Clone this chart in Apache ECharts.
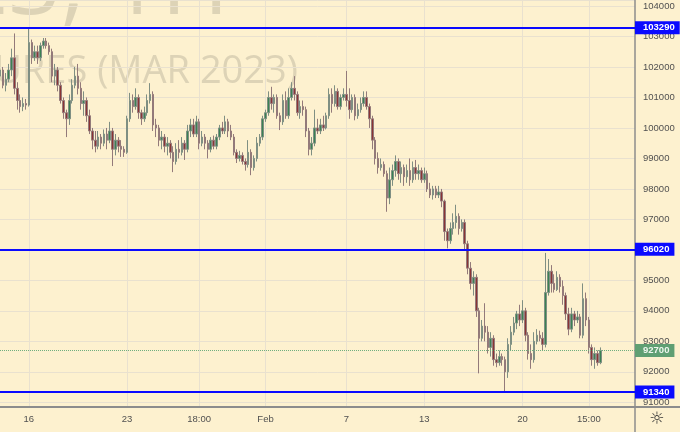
<!DOCTYPE html>
<html><head><meta charset="utf-8">
<script src="https://cdn.jsdelivr.net/npm/echarts@6/dist/echarts.min.js"></script>
<style>html,body{margin:0;padding:0;background:#fdf1cf}#c{width:680px;height:432px}</style>
</head><body><div id="c"></div><script>
const opens=[101700,101900,101400,101600,101900,102300,101300,100900,100700,100800,
100750,102800,102300,102500,102300,102700,102850,102700,102500,101700,
101900,101400,100900,100500,100300,100900,101400,101700,101300,100800,
100900,100400,99900,99600,99400,99700,99500,99800,99600,99900,
99300,99600,99400,99300,99200,100300,100900,100700,101000,100500,
100300,100500,100900,101100,100100,100000,99600,99700,99400,99500,
99200,98900,99300,99200,99500,99300,99900,100100,99800,100200,
99500,99700,99500,99300,99600,99400,99700,100000,99900,100200,
99900,99700,99200,99000,99100,98900,98800,99200,98700,99000,
99500,99700,100300,100500,101000,100800,101000,100400,100200,100900,
100400,101000,101300,101100,100500,100700,100600,99900,99300,99500,
100000,99900,100100,100000,100400,101100,100800,101200,100700,101000,
101100,100900,100600,101000,100400,100600,100800,101000,100700,100300,
99600,99000,98700,98800,98500,97700,98300,98600,98900,98500,
98700,98400,98600,98300,98700,98500,98600,98300,98500,98000,
97800,98000,97800,97900,97600,96600,96300,96700,96900,97100,
96700,96900,96200,95400,94900,95100,94000,93100,93500,93300,
92800,93100,92400,92300,92500,92400,92000,92900,93300,93600,
93900,93700,94000,93200,92600,92400,93000,93200,93100,92900,
94600,95300,94900,94700,95100,94800,94500,93900,93400,93900,
93700,93800,93200,94400,93700,92800,92400,92600,92300];
const closes=[101900,101400,101600,101900,102300,101300,100900,100700,100800,100750,
102800,102300,102500,102300,102700,102850,102700,102500,101700,101900,
101400,100900,100500,100300,100900,101400,101700,101300,100800,100900,
100400,99900,99600,99400,99700,99500,99800,99600,99900,99300,
99600,99400,99300,99200,100300,100900,100700,101000,100500,100300,
100500,100900,101100,100100,100000,99600,99700,99400,99500,99200,
98900,99300,99200,99500,99300,99900,100100,99800,100200,99500,
99700,99500,99300,99600,99400,99700,100000,99900,100200,99900,
99700,99200,99000,99100,98900,98800,99200,98700,99000,99500,
99700,100300,100500,101000,100800,101000,100400,100200,100900,100400,
101000,101300,101100,100500,100700,100600,99900,99300,99500,100000,
99900,100100,100000,100400,101100,100800,101200,100700,101000,101100,
100900,100600,101000,100400,100600,100800,101000,100700,100300,99600,
99000,98700,98800,98500,97700,98300,98600,98900,98500,98700,
98400,98600,98300,98700,98500,98600,98300,98500,98000,97800,
98000,97800,97900,97600,96600,96300,96700,96900,97100,96700,
96900,96200,95400,94900,95100,94000,93100,93500,93300,92800,
93100,92400,92300,92500,92400,92000,92900,93300,93600,93900,
93700,94000,93200,92600,92400,93000,93200,93100,92900,94600,
95300,94900,94700,95100,94800,94500,93900,93400,93900,93700,
93800,93200,94400,93700,92800,92400,92600,92300,92700];
const lows=[101500,101300,101200,101500,101700,101100,100600,100500,100550,100600,
100700,102100,102200,102100,102200,102600,102600,102400,101500,101400,
101200,100800,100300,99700,100100,100800,101300,101100,100600,100400,
100200,99800,99300,99200,99300,99300,99400,99300,99500,98750,
99100,99200,99050,99050,99150,100200,100500,100600,100300,100100,
100200,100400,100800,99900,99700,99400,99300,99200,99100,99000,
98550,98800,99000,99100,98950,99200,99700,99700,99700,99300,
99400,99300,99000,99200,99300,99300,99600,99800,99800,99700,
99600,99100,98850,98900,98800,98600,98700,98450,98600,98900,
99400,99600,100200,100400,100600,100500,100300,99930,100100,100300,
100300,100900,100900,100400,100300,100400,99700,99100,99100,99400,
99800,99800,99900,99950,100300,100500,100700,100600,100600,100900,
100700,100300,100500,100250,100300,100500,100700,100600,100000,99300,
98800,98500,98600,98400,97250,97500,98100,98400,98300,98200,
98100,98200,98100,98200,98300,98300,98200,98200,97900,97700,
97650,97700,97700,97400,96300,96050,96200,96500,96700,96500,
96600,96000,95200,94700,94500,93800,91950,93000,93000,92600,
92500,92200,92150,92200,92200,91340,91800,92700,93200,93400,
93500,93600,93000,92400,92100,92300,92900,93000,92700,92800,
94500,94600,94600,94650,94600,94200,93700,93200,93300,93500,
93600,93100,93100,93500,92600,92200,92100,92200,92250];
const highs=[102100,102000,101800,102100,102600,103100,101500,101100,101000,100950,
103300,102900,102700,102700,102800,102950,102950,102800,102600,102100,
102000,101500,101000,100600,101100,101600,102000,102100,101500,101200,
101000,100600,100000,99900,99900,99800,99950,100000,100200,100000,
99800,99700,99600,99400,100400,101150,101100,101300,101100,100600,
100700,101100,101470,101200,100300,100100,99900,99800,99700,99600,
99400,99500,99600,99700,99600,100100,100300,100300,100400,100300,
99900,99800,99600,99700,99750,99800,100100,100200,100400,100300,
100100,99800,99300,99250,99200,99000,99600,99300,99100,99700,
99800,100400,100600,101200,101350,101100,101100,100500,101100,101200,
101300,101500,101700,101200,100900,100900,100700,100000,99700,100600,
100300,100300,100400,100500,101300,101300,101400,101300,101100,101300,
101870,101300,101100,101100,100800,101000,101200,101200,100800,100400,
99700,99200,99000,98900,98600,98700,98800,99100,99000,98900,
98800,98800,99000,98900,98950,98800,98700,98700,98600,98200,
98100,98100,98100,98000,97650,96700,96900,97200,97480,97200,
97000,97000,96300,95600,95300,95200,94100,93700,94250,93500,
93300,93200,92600,92700,92600,92500,93100,93500,93800,94000,
94200,94350,94100,93300,92900,93300,93400,93350,93300,95900,
95700,95500,95200,95300,95200,95000,94600,94100,94100,94000,
94000,93900,94900,94600,93800,92900,92800,92700,92800];
const tickIdx=[10,44,69,92,120,147,181,204];
const tickText=['16','23','18:00','Feb','7','13','20','15:00'];
const emptySlots=12;
const levels=[103290,96020,91340];
const lastPrice=92700;
const yBottom=90846, yTop=104197;

const n=opens.length+emptySlots;
const categories=[];
for(let i=0;i<n;i++){const k=tickIdx.indexOf(i);categories.push(k>=0?tickText[k]:'c'+i);}
const ohlc=opens.map((o,i)=>[o,closes[i],lows[i],highs[i]]);
const font='"Liberation Sans", Arial, sans-serif';
const bg='#fdf1cf', grid='#e9e1cf', axisCol='#8c8c8c', txt='#505050';
const blueLbl={show:true,position:'end',distance:0,formatter:p=>String(p.value),backgroundColor:'#0a0aff',color:'#fff',fontWeight:'bold',fontSize:9.5,fontFamily:font,padding:[2,5,1,8]};
const greenLbl=Object.assign({},blueLbl,{backgroundColor:'#5f9f73',color:'#eef6ee'});
const chart=echarts.init(document.getElementById('c'),null,{renderer:'canvas'});
chart.setOption({
  animation:false,
  backgroundColor:bg,
  grid:{left:0,right:45,top:0,bottom:25,containLabel:false},
  xAxis:{type:'category',data:categories,boundaryGap:false,
    axisLine:{show:true,lineStyle:{color:axisCol,width:2}},
    axisTick:{show:false},
    axisLabel:{interval:(i)=>tickIdx.includes(i),color:txt,fontSize:9.5,fontFamily:font,margin:7},
    splitLine:{show:true,interval:(i)=>tickIdx.includes(i),lineStyle:{color:grid,width:1}}},
  yAxis:{type:'value',position:'right',min:yBottom,max:yTop,splitNumber:13,minInterval:1000,maxInterval:1000,scale:true,
    axisLine:{show:true,lineStyle:{color:axisCol,width:1.5}},
    axisTick:{show:false},
    axisLabel:{color:txt,fontSize:9.5,fontFamily:font,margin:8,showMinLabel:false,showMaxLabel:false,formatter:v=>String(v)},
    splitLine:{show:true,lineStyle:{color:grid,width:1}}},
  graphic:{elements:[
    {type:'text',silent:true,z:-10,style:{text:'RIH2023, 1H',x:229,y:34,textAlign:'right',textVerticalAlign:'bottom',font:'92px "Open Sans"',fill:'#ddd3b6'}},
    {type:'text',silent:true,z:-10,style:{text:'RTS INDEX FUTURES (MAR 2023)',x:298,y:91,textAlign:'right',textVerticalAlign:'bottom',font:'38px "Open Sans"',fill:'#ddd3b6'}},
    {type:'line',silent:true,shape:{x1:635,y1:407,x2:635,y2:432},style:{stroke:axisCol,lineWidth:1.5}},
    {type:'line',silent:true,shape:{x1:635,y1:407,x2:680,y2:407},style:{stroke:axisCol,lineWidth:2}},
    {type:'text',silent:true,style:{text:'\u263C',x:657,y:420,textAlign:'center',textVerticalAlign:'middle',font:'17px "DejaVu Sans"',fill:'#333'}}
  ]},
  series:[{type:'candlestick',data:ohlc,barWidth:2,
    itemStyle:{color:'#3a8252',color0:'#8a3434',borderColor:'#7f8f83',borderColor0:'#937a7a',borderWidth:1},
    markLine:{symbol:['none','none'],silent:true,animation:false,
      data:[
        ...levels.map(v=>({yAxis:v,lineStyle:{color:'#0a0aff',width:2,type:'solid'},label:blueLbl})),
        {yAxis:lastPrice,lineStyle:{color:'#6fae7f',width:1,type:'dotted'},label:greenLbl}
      ]}
  }]
});
</script></body></html>
